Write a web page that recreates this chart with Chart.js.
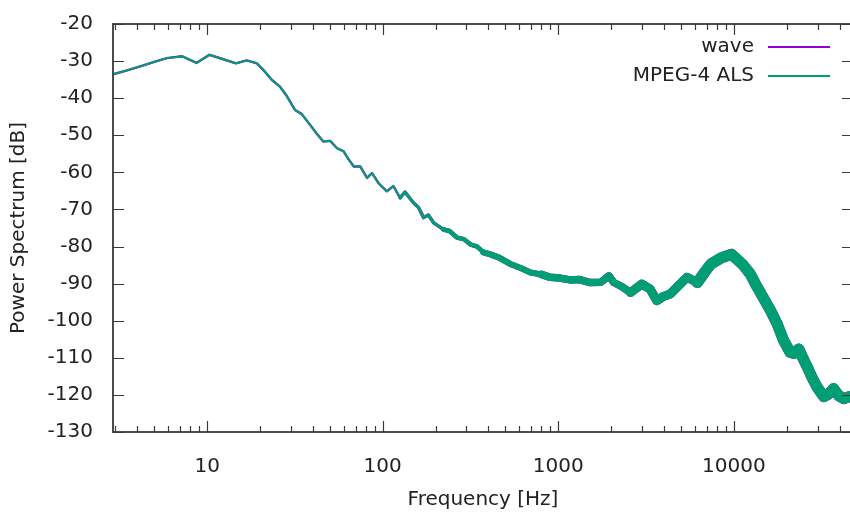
<!DOCTYPE html>
<html>
<head>
<meta charset="utf-8">
<script src="https://cdn.jsdelivr.net/npm/chart.js@4.4.1/dist/chart.umd.min.js"></script>
<style>
  html, body { margin: 0; padding: 0; background: #fff; overflow: hidden; }
  #wrap { width: 860px; height: 516px; }
</style>
</head>
<body>
<div id="wrap"><canvas id="spectrum" width="860" height="516"></canvas></div>
<script>
// frequency bins (Hz)
const freqs = [
  2.9, 3.5, 4.3, 5.0, 5.9, 7.2, 8.7, 10.3, 12.0, 14.6, 16.8, 19.2, 21.0, 23.4, 26.0, 28.5,
  31.7, 34.6, 38.6, 42.0, 45.9, 50.2, 55.0, 59.8, 64.0, 68.4, 74.5, 81.4, 86.9, 95.0,
  105.6, 115, 125.6, 134, 149.6, 160, 171, 182, 195, 222, 240, 265, 290, 315, 345, 375,
  410, 460, 533, 610, 695, 800, 899, 1020, 1170, 1320, 1520, 1750, 1940, 2070, 2300,
  2580, 2990, 3340, 3640, 3950, 4340, 4850, 5400, 6200, 6800, 7400, 8500, 9700, 10400,
  11300, 12400, 13600, 14800, 16200, 17700, 19200, 20900, 22000, 23400, 24700, 26200,
  28000, 29800, 32500, 34500, 37000, 39500, 42300, 45000, 48000
];

// power spectrum of the original wave file (dB)
const waveDb = [
  -33.6, -32.5, -31.2, -30.2, -29.2, -28.7, -30.5, -28.3, -29.3, -30.6, -29.8, -30.6, -32.5, -35.1, -36.9, -39.5,
  -43.2, -44.3, -47.2, -49.5, -51.7, -51.5, -53.5, -54.3, -56.5, -58.4, -58.4, -61.5, -60.2, -63.0,
  -65.1, -63.7, -66.9, -65.3, -68.2, -69.5, -72.2, -71.5, -73.6, -75.4, -75.8, -77.6, -78.0, -79.4, -80.0, -81.6,
  -82.1, -83.0, -84.7, -85.8, -87.0, -87.5, -88.3, -88.5, -89.0, -88.9, -89.7, -89.6, -87.9, -89.7, -90.8,
  -92.4, -90.1, -91.5, -94.6, -93.5, -92.8, -90.5, -88.3, -89.7, -87.0, -84.7, -83.0, -82.1, -83.4,
  -85.0, -87.4, -91.0, -94.0, -97.3, -101.0, -105.3, -108.5, -108.8, -107.6, -110.0, -112.5,
  -115.5, -117.9, -120.5, -119.8, -118.3, -120.2, -121.0, -120.5, -120.6
];

// decoded MPEG-4 ALS (lossless, so the curve sits exactly on top of the wave one)
const alsDb = [
  -33.6, -32.5, -31.2, -30.2, -29.2, -28.7, -30.5, -28.3, -29.3, -30.6, -29.8, -30.6, -32.5, -35.1, -36.9, -39.5,
  -43.2, -44.3, -47.2, -49.5, -51.7, -51.5, -53.5, -54.3, -56.5, -58.4, -58.4, -61.5, -60.2, -63.0,
  -65.1, -63.7, -66.9, -65.3, -68.2, -69.5, -72.2, -71.5, -73.6, -75.4, -75.8, -77.6, -78.0, -79.4, -80.0, -81.6,
  -82.1, -83.0, -84.7, -85.8, -87.0, -87.5, -88.3, -88.5, -89.0, -88.9, -89.7, -89.6, -87.9, -89.7, -90.8,
  -92.4, -90.1, -91.5, -94.6, -93.5, -92.8, -90.5, -88.3, -89.7, -87.0, -84.7, -83.0, -82.1, -83.4,
  -85.0, -87.4, -91.0, -94.0, -97.3, -101.0, -105.3, -108.5, -108.8, -107.6, -110.0, -112.5,
  -115.5, -117.9, -120.5, -119.8, -118.3, -120.2, -121.0, -120.5, -120.6
];

const xTickValues = [10, 100, 1000, 10000];
const yTickValues = [-130, -120, -110, -100, -90, -80, -70, -60, -50, -40, -30, -20];

const toPoints = (ys) => freqs.map((f, i) => ({ x: f, y: ys[i] }));

// the spectrum gets noisier (thicker band) towards high frequencies
function bandWidth(ctx, extra) {
  const f = ctx.p0.parsed.x;
  let w;
  if (f < 120) w = 2;
  else if (f < 200) w = 3;
  else if (f < 350) w = 4.5;
  else if (f < 700) w = 6;
  else if (f < 2500) w = 7.5;
  else if (f < 6000) w = 9;
  else w = 11;
  // only the thin part lets the purple wave line peek out at the edges
  return w <= 3 ? w + extra : w;
}

Chart.defaults.font.family = "'DejaVu Sans', 'Liberation Sans', sans-serif";
Chart.defaults.font.size = 20;
Chart.defaults.color = '#222';

// gnuplot style frame with inward ticks on all four sides
const gnuplotFrame = {
  id: 'gnuplotFrame',
  afterDatasetsDraw(chart) {
    const { ctx, chartArea: a, scales: { x, y } } = chart;
    ctx.save();
    ctx.strokeStyle = '#3a3a3a';
    ctx.lineWidth = 1.2;
    ctx.beginPath();
    yTickValues.forEach(v => {
      const py = Math.round(y.getPixelForValue(v)) + 0.5;
      ctx.moveTo(a.left, py); ctx.lineTo(a.left + 11, py);
      ctx.moveTo(a.right, py); ctx.lineTo(a.right - 11, py);
    });
    for (let d = 1; d <= 10000; d *= 10) {
      for (let m = 1; m <= 9; m++) {
        const v = d * m;
        if (v < x.min || v > x.max) continue;
        const px = Math.round(x.getPixelForValue(v)) + 0.5;
        const len = m === 1 ? 11 : 6;
        ctx.moveTo(px, a.bottom); ctx.lineTo(px, a.bottom - len);
        ctx.moveTo(px, a.top); ctx.lineTo(px, a.top + len);
      }
    }
    ctx.stroke();
    ctx.lineWidth = 1.8;
    ctx.strokeRect(a.left, a.top, a.right - a.left, a.bottom - a.top);
    ctx.restore();
  }
};

// key in the top right corner: text right-aligned, sample line after it
const gnuplotKey = {
  id: 'gnuplotKey',
  afterDraw(chart) {
    const { ctx } = chart;
    const rows = [47, 76];
    ctx.save();
    ctx.font = "20px 'DejaVu Sans', 'Liberation Sans', sans-serif";
    ctx.textAlign = 'right';
    ctx.textBaseline = 'middle';
    chart.data.datasets.forEach((ds, i) => {
      ctx.fillStyle = '#222';
      ctx.fillText(ds.label, 754, rows[i]);
      ctx.strokeStyle = ds.borderColor;
      ctx.lineWidth = 1.8;
      ctx.beginPath();
      ctx.moveTo(768, rows[i]);
      ctx.lineTo(830, rows[i]);
      ctx.stroke();
    });
    ctx.restore();
  }
};

new Chart(document.getElementById('spectrum'), {
  type: 'line',
  data: {
    datasets: [
      {
        label: 'wave',
        data: toPoints(waveDb),
        borderColor: '#9400d3',
        borderWidth: 2.4,
        pointRadius: 0,
        tension: 0,
        order: 1,
        borderCapStyle: 'round',
        borderJoinStyle: 'round',
        segment: { borderWidth: ctx => bandWidth(ctx, 0.4) }
      },
      {
        label: 'MPEG-4 ALS',
        data: toPoints(alsDb),
        borderColor: '#009e73',
        borderWidth: 2,
        pointRadius: 0,
        tension: 0,
        order: 0,
        borderCapStyle: 'round',
        borderJoinStyle: 'round',
        segment: { borderWidth: ctx => bandWidth(ctx, 0) }
      }
    ]
  },
  options: {
    responsive: false,
    animation: false,
    layout: { padding: { top: 22, right: 7, left: 0, bottom: 0 } },
    plugins: {
      legend: { display: false },
      tooltip: { enabled: false }
    },
    scales: {
      x: {
        type: 'logarithmic',
        min: 2.91,
        max: 47700,
        afterBuildTicks: s => { s.ticks = xTickValues.map(v => ({ value: v })); },
        afterFit: s => { s.height = 84; },
        grid: { display: false },
        border: { display: false },
        ticks: {
          padding: 15,
          maxRotation: 0,
          autoSkip: false,
          callback: v => String(v)
        },
        title: {
          display: true,
          text: 'Frequency [Hz]',
          padding: { top: 0, bottom: 4 }
        }
      },
      y: {
        min: -130,
        max: -20,
        afterBuildTicks: s => { s.ticks = yTickValues.map(v => ({ value: v })); },
        afterFit: s => { s.width = 113; },
        grid: { display: false },
        border: { display: false },
        ticks: { padding: 12 },
        title: {
          display: true,
          text: 'Power Spectrum [dB]',
          padding: { top: 7, bottom: 0 }
        }
      }
    }
  },
  plugins: [gnuplotFrame, gnuplotKey]
});
</script>
</body>
</html>
